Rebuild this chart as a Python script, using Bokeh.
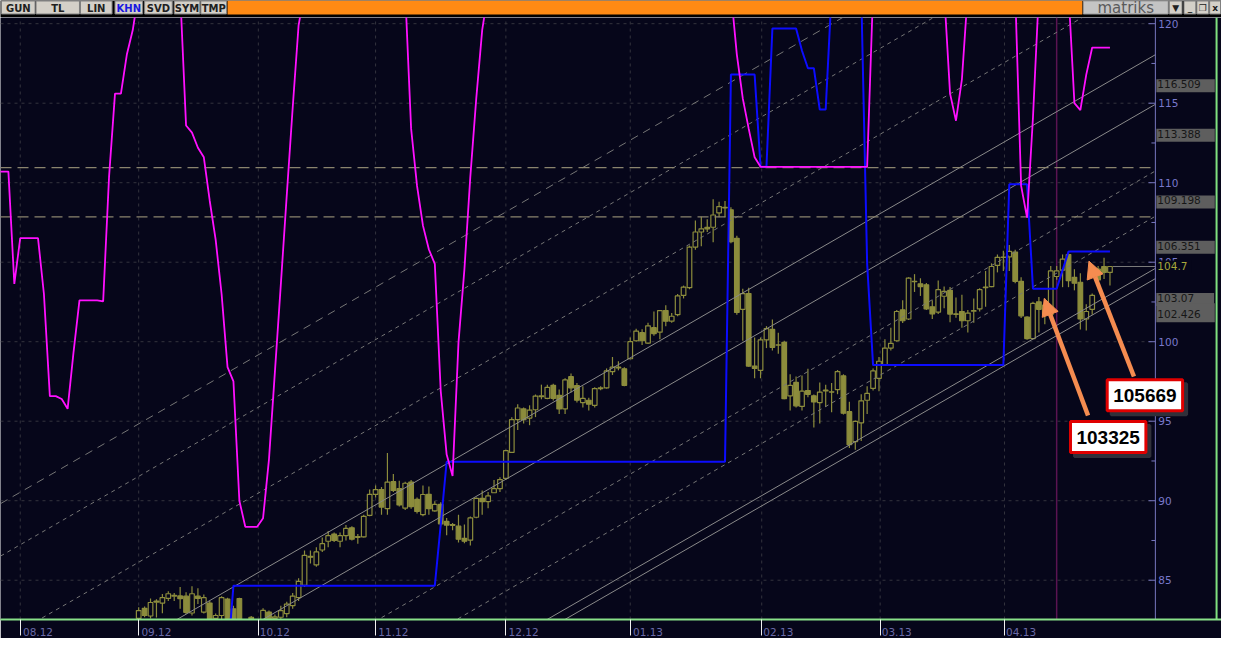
from bokeh.plotting import figure
from bokeh.models import (Range1d, LinearAxis, FixedTicker, Label, Arrow,
                          NormalHead, ColumnDataSource)
from bokeh.layouts import column
from bokeh.embed import file_html
from bokeh.resources import INLINE
from bokeh.core.properties import value

# ---------------------------------------------------------------- data
# daily bars, index 0 = first visible bar (early Sept 2012)
bar_open = [
    82.60, 83.23, 82.75, 83.62, 83.56, 83.86, 84.00, 84.01, 84.00, 82.94,
    84.00, 83.00, 83.56, 82.60, 82.78, 83.82, 83.20, 83.85, 82.20, 82.67,
    82.30, 82.30, 83.00, 82.60, 82.67, 82.90, 83.40, 83.90, 84.67, 86.50,
    85.96, 86.90, 87.45, 87.90, 87.45, 87.80, 88.30, 87.70, 87.73, 89.08,
    90.40, 90.70, 89.50, 91.20, 90.76, 89.53, 91.17, 90.08, 89.12, 90.40,
    89.36, 89.77, 88.70, 88.45, 88.40, 87.63, 87.52, 88.96, 90.15, 89.94,
    90.50, 90.76, 91.40, 93.04, 95.10, 95.77, 95.20, 95.72, 96.55, 96.44,
    97.26, 96.63, 95.77, 97.80, 97.24, 96.17, 96.32, 96.00, 97.05, 97.10,
    98.12, 98.35, 98.30, 98.93, 100.06, 100.57, 99.91, 100.88, 100.60, 101.96,
    101.29, 101.70, 102.92, 103.40, 105.95, 106.90, 107.20, 107.20, 108.10, 108.42,
    108.30, 106.50, 102.04, 103.03, 98.47, 98.20, 100.12, 100.77, 99.80, 99.96,
    96.59, 97.44, 95.93, 96.93, 96.60, 96.17, 96.90, 96.85, 96.99, 97.85,
    95.60, 93.72, 94.90, 96.32, 97.06, 97.70, 98.56, 99.60, 100.06, 102.00,
    101.43, 103.80, 103.64, 103.58, 102.20, 101.86, 102.86, 103.23, 101.75, 101.90,
    101.32, 101.92, 102.06, 103.40, 103.47, 104.80, 105.30, 105.34, 105.64, 103.80,
    101.55, 100.20, 102.51, 101.70, 101.70, 104.10, 104.50, 105.48, 104.05, 103.74,
    101.43, 102.04, 104.56, 104.73, 104.36,
]
bar_high = [
    83.30, 83.35, 83.85, 83.80, 84.13, 84.31, 84.20, 84.58, 84.25, 84.62,
    84.50, 84.10, 83.70, 82.90, 84.00, 83.90, 83.40, 83.90, 82.40, 82.75,
    82.45, 83.23, 83.10, 82.85, 83.40, 83.64, 84.20, 85.13, 86.87, 86.87,
    87.08, 87.69, 88.10, 88.00, 88.00, 88.47, 88.40, 87.90, 89.12, 90.70,
    90.96, 90.86, 93.00, 91.68, 91.26, 91.20, 91.30, 90.20, 90.96, 90.90,
    89.96, 89.90, 88.92, 88.60, 89.12, 88.50, 89.00, 90.20, 90.65, 90.55,
    91.30, 91.48, 93.20, 95.25, 96.07, 95.87, 96.00, 96.68, 97.30, 97.30,
    97.35, 97.00, 97.70, 98.00, 97.40, 97.20, 96.48, 97.13, 97.20, 98.32,
    99.04, 98.77, 98.40, 100.27, 100.82, 100.78, 101.19, 101.90, 102.00, 102.30,
    101.80, 103.00, 103.53, 106.05, 107.63, 107.86, 107.70, 108.96, 108.80, 108.85,
    108.45, 106.66, 103.33, 103.40, 100.27, 100.27, 100.98, 101.40, 100.57, 100.06,
    97.95, 97.82, 97.87, 98.30, 96.68, 97.44, 97.30, 97.40, 98.22, 97.95,
    96.22, 95.05, 96.70, 97.20, 98.32, 99.04, 100.16, 100.88, 102.00, 102.60,
    104.06, 104.25, 103.99, 103.70, 102.60, 103.85, 103.47, 103.44, 102.78, 102.96,
    102.00, 102.72, 103.37, 104.45, 104.93, 105.48, 105.72, 106.09, 105.79, 104.05,
    101.60, 102.52, 102.82, 102.72, 104.76, 104.76, 105.48, 105.669, 104.56, 104.30,
    102.35, 103.03, 104.76, 105.28, 104.76,
]
bar_low = [
    82.55, 82.67, 82.60, 82.65, 82.93, 83.70, 83.70, 83.20, 82.87, 82.78,
    83.50, 82.90, 82.50, 82.50, 82.50, 82.50, 82.00, 82.00, 81.60, 81.90,
    81.80, 82.10, 82.20, 82.40, 82.50, 82.67, 83.20, 83.70, 84.58, 86.05,
    85.85, 86.77, 87.08, 87.40, 87.08, 87.50, 87.50, 87.30, 87.69, 89.02,
    90.20, 89.12, 89.12, 90.55, 89.63, 89.42, 89.50, 89.20, 89.02, 89.12,
    89.30, 88.40, 87.83, 88.15, 87.38, 87.32, 87.18, 88.90, 89.12, 89.53,
    90.50, 90.55, 91.30, 93.00, 94.44, 94.85, 94.75, 95.26, 96.38, 96.38,
    96.30, 95.46, 95.46, 96.80, 96.17, 95.87, 95.67, 95.87, 96.95, 97.05,
    97.91, 98.20, 97.20, 98.90, 100.00, 99.80, 99.85, 100.37, 100.16, 100.98,
    101.20, 101.60, 102.72, 103.30, 105.79, 106.00, 106.90, 106.26, 107.83, 107.83,
    106.20, 101.70, 100.06, 98.42, 97.70, 97.70, 99.60, 99.45, 99.24, 96.38,
    95.67, 95.87, 95.67, 96.50, 94.60, 94.85, 95.90, 95.56, 96.70, 95.42,
    93.32, 93.20, 93.76, 95.46, 96.93, 96.89, 98.48, 99.45, 100.00, 101.18,
    101.36, 103.13, 102.88, 102.00, 101.43, 101.75, 102.10, 101.23, 101.50, 100.88,
    100.58, 101.20, 101.90, 102.20, 103.43, 104.36, 104.45, 104.45, 103.68, 101.49,
    100.12, 100.16, 100.58, 101.10, 101.43, 103.90, 103.43, 103.43, 103.23, 100.77,
    100.70, 101.70, 103.53, 103.95, 103.53,
]
bar_close = [
    83.09, 82.78, 83.60, 83.68, 83.90, 84.15, 84.05, 83.84, 82.98, 84.15,
    83.85, 83.90, 82.55, 82.78, 83.90, 82.55, 82.60, 82.40, 81.90, 82.57,
    82.10, 83.10, 82.40, 82.70, 83.09, 83.50, 84.00, 84.93, 86.56, 86.45,
    86.78, 87.30, 87.80, 87.50, 87.80, 88.26, 87.58, 87.75, 89.02, 90.40,
    90.70, 89.60, 91.17, 90.65, 89.73, 91.10, 89.63, 89.33, 90.39, 89.50,
    89.77, 88.55, 88.47, 88.50, 87.58, 87.45, 88.92, 90.15, 89.94, 90.30,
    90.76, 91.33, 93.15, 95.10, 95.83, 95.10, 95.70, 96.58, 96.60, 97.13,
    96.44, 95.77, 97.60, 97.10, 96.32, 96.44, 96.07, 97.05, 97.10, 98.16,
    98.40, 98.40, 97.26, 100.00, 100.67, 100.06, 101.00, 100.51, 101.96, 101.29,
    101.60, 102.88, 103.43, 105.95, 106.90, 107.10, 107.10, 107.97, 108.50, 108.45,
    106.30, 101.84, 103.03, 98.47, 98.32, 100.12, 100.82, 99.65, 99.79, 96.42,
    97.26, 95.97, 96.89, 96.69, 96.21, 96.83, 96.95, 96.83, 98.12, 95.50,
    93.52, 94.99, 96.28, 96.75, 98.16, 98.77, 99.60, 99.90, 101.90, 101.32,
    104.00, 103.78, 103.47, 102.06, 101.75, 103.27, 103.17, 101.74, 101.72, 101.32,
    101.80, 101.95, 103.27, 103.43, 104.73, 105.31, 105.32, 105.68, 103.80, 101.63,
    100.20, 102.41, 102.04, 102.30, 104.45, 104.45, 105.20, 103.84, 103.68, 101.43,
    101.90, 102.92, 103.88, 104.36, 104.73,
]

# magenta oscillator (plotted on the price scale), vertices (bar, value)
osc_bar = [-24, -22, -21, -20, -17, -16, -15, -14, -13, -12, -11, -10, -7, -6, -5, -4, -3, -2, -1, 0,
           7, 8, 9, 10, 11, 12, 13, 14, 15, 16, 17, 18, 20, 21, 22, 23, 24, 25, 26, 27, 28,
           45, 46, 47, 48, 49, 50, 51, 52, 53, 54, 55, 56, 57, 58, 59,
           100, 101, 102, 103, 104, 105, 123, 124,
           136, 137, 138, 139, 140, 148, 149, 150, 151, 152,
           157, 158, 159, 160, 161, 164]
osc_value = [110.70, 110.70, 103.64, 106.52, 106.52, 103.00, 96.58, 96.58, 96.40, 95.78, 99.35, 102.60, 102.60, 102.53, 110.40, 115.60, 115.60, 118.06, 119.60, 122.0,
             122.0, 113.60, 113.15, 112.20, 111.60, 108.85, 106.40, 103.00, 98.40, 97.50, 90.00, 88.36, 88.36, 88.90, 92.60, 98.10, 103.60, 109.20, 114.70, 119.90, 122.0,
             122.0, 113.40, 109.80, 107.30, 105.80, 104.90, 96.90, 92.90, 91.55, 99.96, 104.56, 110.40, 115.30, 119.60, 122.0,
             122.0, 118.06, 115.30, 113.40, 111.60, 111.00, 111.00, 122.0,
             122.0, 115.60, 113.90, 116.50, 122.0, 122.0, 109.80, 107.80, 114.10, 122.0,
             122.0, 115.00, 114.57, 116.80, 118.50, 118.50]

# blue step indicator: (first bar, last bar, level)
stop_start = [0, 16, 51, 52, 100, 105, 107, 112, 113, 115, 117, 123, 124, 147, 151, 156, 157]
stop_end   = [15, 50, 51, 99, 104, 106, 111, 112, 114, 116, 122, 123, 146, 150, 155, 156, 164]
stop_level = [80.0, 84.66, 88.5, 92.45, 116.8, 111.0, 119.7, 118.3, 117.2, 114.6, 122.0, 104.9,
              98.53, 109.9, 103.33, 104.5, 105.669]

# parallel channel: level of each line at the anchor bar, common slope per bar
channel_anchor_bar = 164.5
channel_slope = 0.215
channel_levels = [130.2, 126.9, 121.5, 116.509, 113.388, 109.198, 106.351, 103.07, 102.426]
channel_kind = ["longdash", "dash", "dash", "solid", "solid", "dash", "dash", "solid", "solid"]
tagged_levels = [116.509, 113.388, 109.198, 106.351, 103.07, 102.426]

resistance_levels = [110.95, 107.85]
marker_bar = 155

month_labels = ["08.12", "09.12", "10.12", "11.12", "12.12", "01.13", "02.13", "03.13", "04.13"]
month_bars = [-20, 0, 20.2, 40, 62, 83, 105.2, 125.2, 146.2]
price_ticks = [85, 90, 95, 100, 105, 110, 115, 120]
price_minor = [82.5, 87.5, 92.5, 97.5, 102.5, 107.5, 112.5, 117.5]

callout_text = ["103325", "105669"]
callout_tip_bar = [152.9, 160.45]
callout_tip_price = [102.72, 105.07]
callout_tail_bar = [160.3, 168.05]
callout_tail_price = [95.36, 97.81]
callout_box_bar = [163.7, 169.9]
callout_box_price = [94.0, 96.64]

toolbar_buttons = ["GUN", "TL", "LIN", "KHN", "SVD", "SYM", "TMP"]
toolbar_left = [1, 36, 81, 116, 146, 176, 203]
toolbar_right = [35, 80, 113, 144, 174, 202, 229]
window_buttons = ["\u25bc", "_", "\u2750", "x"]
window_left = [1184, 1199, 1212, 1225]
window_right = [1197, 1211, 1224, 1236]

# ---------------------------------------------------------------- style
BG = "#06061a"
OLIVE = "#8c8c3c"
ORANGE = "#f58c50"
AXIS_C = "#7878c0"
W = 1221
TB_H = 17
MAIN_H = 621
BAR_PX = 6.0                      # reference pixels per bar
X_VIEW = (-23.333, 182.833)       # whole strip, price scale included
Y_VIEW = (82.53, 120.39)
AXIS_X = 171.667                  # price-scale line
BORDER_X = 182.0                  # green window border

# ---------------------------------------------------------------- toolbar strip
tb = figure(width=W, height=TB_H, x_range=Range1d(0, 1237), y_range=Range1d(17, 0),
            output_backend="svg", toolbar_location=None,
            x_axis_location=None, y_axis_location=None, min_border=0,
            background_fill_color="#000000", border_fill_color="#000000",
            outline_line_color=None)
tb.grid.visible = False
tb.quad(left=[230], right=[1096], top=[0], bottom=[14], fill_color="#ff8a14", line_color=None)
nb = len(toolbar_buttons)
tb.quad(left=toolbar_left, right=toolbar_right, top=[0.5] * nb, bottom=[13.5] * nb,
        fill_color="#d4d0c8", line_color="#808080", line_width=1)
tb.text(x=[(a + b) / 2 for a, b in zip(toolbar_left, toolbar_right)], y=[7.5] * nb,
        text=toolbar_buttons, text_font=value("DejaVu Sans"), text_font_size="10px",
        text_font_style="bold", text_align="center", text_baseline="middle",
        text_color=["#1818e0" if t == "KHN" else "#202020" for t in toolbar_buttons])
tb.quad(left=[1097], right=[1183], top=[0.5], bottom=[13.5], fill_color="#c4c4c4", line_color="#9a9a9a")
tb.text(x=[1140], y=[7.0], text=["matriks"], text_font=value("DejaVu Sans"), text_font_size="15px",
        text_align="center", text_baseline="middle", text_color="#5a5a5a")
nw = len(window_buttons)
tb.quad(left=window_left, right=window_right, top=[0.5] * nw, bottom=[13.5] * nw,
        fill_color="#d4d0c8", line_color="#808080")
tb.text(x=[(a + b) / 2 for a, b in zip(window_left, window_right)], y=[7.3] * nw,
        text=window_buttons, text_font=value("DejaVu Sans"), text_font_size="9px",
        text_font_style="bold", text_align="center", text_baseline="middle", text_color="#202020")

# ---------------------------------------------------------------- main chart
p = figure(width=W, height=MAIN_H, x_range=Range1d(*X_VIEW), y_range=Range1d(*Y_VIEW),
           output_backend="svg", toolbar_location=None,
           x_axis_location=None, y_axis_location=None,
           min_border_left=0, min_border_right=0, min_border_top=0, min_border_bottom=0,
           background_fill_color=BG, border_fill_color=BG, outline_line_color=None)
p.grid.visible = False

xa = X_VIEW[0]
ya, yb = Y_VIEW
nt, nm = len(price_ticks), len(month_bars)

# grid (stops at the price scale)
p.segment(x0=[xa] * nt, x1=[AXIS_X] * nt, y0=price_ticks, y1=price_ticks,
          line_color="#34343e", line_dash="3 4", line_width=1)
p.segment(x0=month_bars, x1=month_bars, y0=[ya] * nm, y1=[yb] * nm,
          line_color="#34343e", line_dash="3 4", line_width=1)

# marker bar
p.segment(x0=[marker_bar], x1=[marker_bar], y0=[ya], y1=[yb], line_color="#5a1452", line_width=1.5)

# candles
bars = list(range(len(bar_close)))
src = ColumnDataSource(dict(
    x=bars, o=bar_open, h=bar_high, l=bar_low, c=bar_close,
    top=[max(a, b) for a, b in zip(bar_open, bar_close)],
    bottom=[min(a, b) for a, b in zip(bar_open, bar_close)],
    fill=[BG if c >= o else OLIVE for o, c in zip(bar_open, bar_close)],
))
p.segment(x0="x", y0="l", x1="x", y1="h", source=src, line_color=OLIVE, line_width=1.2)
p.vbar(x="x", width=0.78, top="top", bottom="bottom", source=src,
       fill_color="fill", line_color=OLIVE, line_width=1.2)

# channel lines
for kind, dash, col in (("solid", "solid", "#8a8a8a"), ("dash", "4 4", "#767676"),
                        ("longdash", "8 6", "#767676")):
    lv = [l for l, k in zip(channel_levels, channel_kind) if k == kind]
    p.segment(x0=[xa] * len(lv), x1=[AXIS_X] * len(lv),
              y0=[l + channel_slope * (xa - channel_anchor_bar) for l in lv],
              y1=[l + channel_slope * (AXIS_X - channel_anchor_bar) for l in lv],
              line_color=col, line_dash=dash, line_width=1)

# horizontal resistance levels
nr = len(resistance_levels)
p.segment(x0=[xa] * nr, x1=[AXIS_X] * nr, y0=resistance_levels, y1=resistance_levels,
          line_color="#8a846e", line_dash="11 6", line_width=1.3)

# last price line
p.segment(x0=[bars[-1] + 0.5], x1=[AXIS_X], y0=[bar_close[-1]], y1=[bar_close[-1]],
          line_color="#7a7a7a", line_width=1)

# blue step indicator
sx, sy = [], []
for a, b, lv in zip(stop_start, stop_end, stop_level):
    sx += [a, b]
    sy += [lv, lv]
p.line(sx, sy, line_color="#0c0cff", line_width=2)

# magenta oscillator
p.line(osc_bar, osc_value, line_color="#ff10ff", line_width=1.8)

# price scale (right side, inside the strip)
p.segment(x0=[AXIS_X], x1=[AXIS_X], y0=[ya], y1=[yb], line_color=AXIS_C, line_width=1)
p.segment(x0=[AXIS_X - 7 / BAR_PX] * nt, x1=[AXIS_X] * nt, y0=price_ticks, y1=price_ticks,
          line_color=AXIS_C, line_width=1)
nmi = len(price_minor)
p.segment(x0=[AXIS_X - 4 / BAR_PX] * nmi, x1=[AXIS_X] * nmi, y0=price_minor, y1=price_minor,
          line_color=AXIS_C, line_width=1)
p.text(x=[AXIS_X + 3 / BAR_PX] * nt, y=price_ticks, text=[str(t) for t in price_ticks],
       text_font=value("DejaVu Sans"), text_font_size="10.5px", text_color="#7878cc",
       text_align="left", text_baseline="middle")

# green window border
p.segment(x0=[BORDER_X], x1=[BORDER_X], y0=[ya], y1=[yb], line_color="#80e080", line_width=2)

# month axis
label_pos = [round(m + 2.8) for m in month_bars]
xaxis = LinearAxis(ticker=FixedTicker(ticks=label_pos, minor_ticks=month_bars),
                   major_label_overrides={pos: lab for pos, lab in zip(label_pos, month_labels)},
                   axis_line_color="#88e088", axis_line_width=2,
                   major_tick_line_color=None, major_tick_in=0, major_tick_out=0,
                   minor_tick_line_color="#f0f0f0", minor_tick_in=0, minor_tick_out=16,
                   major_label_text_color="#6a6aa8", major_label_text_font="DejaVu Sans",
                   major_label_text_font_size="10.5px", major_label_standoff=-8,
                   axis_label_standoff=0)
p.add_layout(xaxis, "below")

# level tags on the price scale
for i, lv in enumerate(tagged_levels):
    txt = f"{lv:g}"
    pad_r = 14 + int(round((7 - len(txt)) * 6.4))
    pad_b = 7 if i == len(tagged_levels) - 1 else 1
    p.add_layout(Label(x=AXIS_X + 1 / BAR_PX, y=lv, text=txt, text_align="left", text_baseline="top",
                       text_font="DejaVu Sans", text_font_size="10.5px", text_color="#161616",
                       background_fill_color="#5e5e5e", padding=(1, pad_r, pad_b, 4)))
p.add_layout(Label(x=AXIS_X + 1 / BAR_PX, y=bar_close[-1], text=f"{bar_close[-1]:.1f}",
                   text_align="left", text_baseline="middle", text_font="DejaVu Sans",
                   text_font_size="10.5px", text_color="#a8a83c", background_fill_color=BG,
                   padding=(1, 4, 1, 3)))

# callouts
for tx, ty, hx, hy in zip(callout_tail_bar, callout_tail_price, callout_tip_bar, callout_tip_price):
    p.add_layout(Arrow(end=NormalHead(size=17, fill_color=ORANGE, line_color=ORANGE, line_width=1),
                       x_start=tx, y_start=ty, x_end=hx, y_end=hy,
                       line_color=ORANGE, line_width=4.5))
for t, bx, by in zip(callout_text, callout_box_bar, callout_box_price):
    p.add_layout(Label(x=bx, y=by, text=t, x_offset=4, y_offset=-4, text_align="center",
                       text_baseline="middle", text_font="Liberation Sans", text_font_style="bold",
                       text_font_size="19px", text_color="#30303a",
                       background_fill_color="#30303a", border_line_color="#30303a",
                       border_line_width=3, padding=(6, 9)))
    p.add_layout(Label(x=bx, y=by, text=t, text_align="center",
                       text_baseline="middle", text_font="Liberation Sans", text_font_style="bold",
                       text_font_size="19px", text_color="#000000",
                       background_fill_color="#ffffff", border_line_color="#e00000",
                       border_line_width=3, padding=(6, 9)))

layout = column(tb, p, spacing=0)
open("out.html", "w").write(file_html(layout, INLINE))
